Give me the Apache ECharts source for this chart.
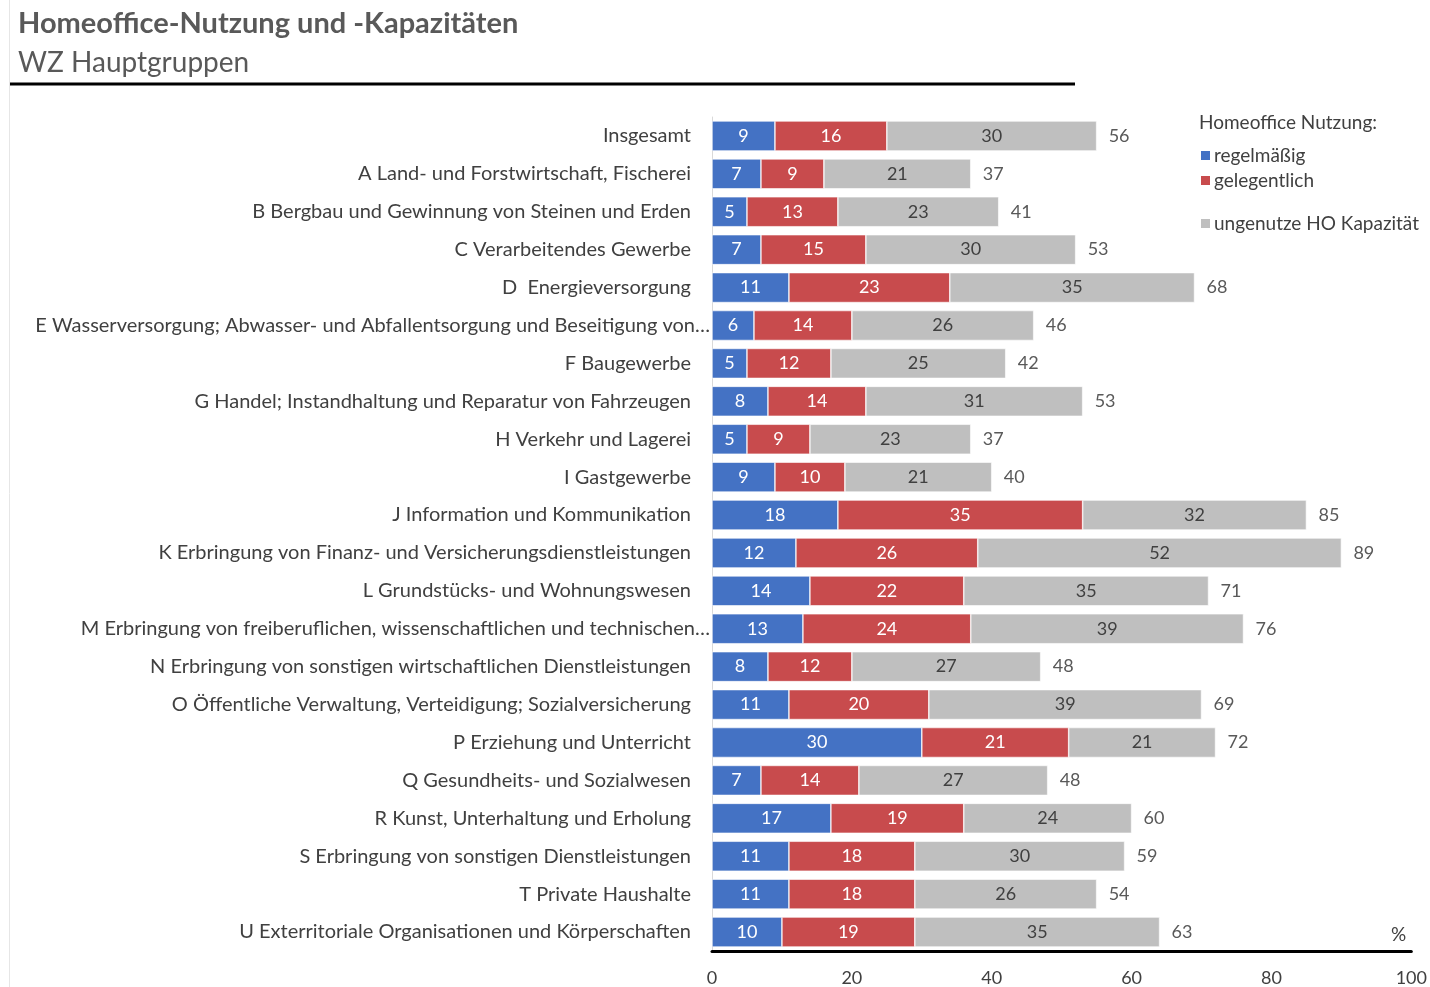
<!DOCTYPE html>
<html>
<head>
<meta charset="utf-8">
<script src="https://cdn.jsdelivr.net/npm/echarts@6/dist/echarts.min.js"></script>
<style>
  html, body { margin: 0; padding: 0; background: #fff; }
  #chart { width: 1430px; height: 987px; }
</style>
</head>
<body>
<div id="chart"></div>
<script>
// Wirtschaftszweige (WZ Hauptgruppen)
const categories = [
  'Insgesamt',
  'A Land- und Forstwirtschaft, Fischerei',
  'B Bergbau und Gewinnung von Steinen und Erden',
  'C Verarbeitendes Gewerbe',
  'D  Energieversorgung',
  'E Wasserversorgung; Abwasser- und Abfallentsorgung und Beseitigung von…',
  'F Baugewerbe',
  'G Handel; Instandhaltung und Reparatur von Fahrzeugen',
  'H Verkehr und Lagerei',
  'I Gastgewerbe',
  'J Information und Kommunikation',
  'K Erbringung von Finanz- und Versicherungsdienstleistungen',
  'L Grundstücks- und Wohnungswesen',
  'M Erbringung von freiberuflichen, wissenschaftlichen und technischen…',
  'N Erbringung von sonstigen wirtschaftlichen Dienstleistungen',
  'O Öffentliche Verwaltung, Verteidigung; Sozialversicherung',
  'P Erziehung und Unterricht',
  'Q Gesundheits- und Sozialwesen',
  'R Kunst, Unterhaltung und Erholung',
  'S Erbringung von sonstigen Dienstleistungen',
  'T Private Haushalte',
  'U Exterritoriale Organisationen und Körperschaften'
];

// Anteile in %
const regelmaessig = [9, 7, 5, 7, 11, 6, 5, 8, 5, 9, 18, 12, 14, 13, 8, 11, 30, 7, 17, 11, 11, 10];
const gelegentlich = [16, 9, 13, 15, 23, 14, 12, 14, 9, 10, 35, 26, 22, 24, 12, 20, 21, 14, 19, 18, 18, 19];
const ungenutzt = [30, 21, 23, 30, 35, 26, 25, 31, 23, 21, 32, 52, 35, 39, 27, 39, 21, 27, 24, 30, 26, 35];
const gesamt = [56, 37, 41, 53, 68, 46, 42, 53, 37, 40, 85, 89, 71, 76, 48, 69, 72, 48, 60, 59, 54, 63];

const xTicks = [0, 20, 40, 60, 80, 100];

const FONT = 'Lato';
const chart = echarts.init(document.getElementById('chart'), null, { renderer: 'canvas' });

const insideLabel = (color) => ({
  show: true,
  position: 'inside',
  color: color,
  fontFamily: FONT,
  fontSize: 18
});

chart.setOption({
  animation: false,
  backgroundColor: '#ffffff',
  textStyle: { fontFamily: FONT },
  title: [
    {
      text: 'Homeoffice-Nutzung und -Kapazitäten',
      left: 13, top: 4,
      textStyle: { fontFamily: FONT, fontSize: 29, fontWeight: 'bold', color: '#595959' }
    },
    {
      text: 'WZ Hauptgruppen',
      left: 13, top: 44,
      textStyle: { fontFamily: FONT, fontSize: 28, fontWeight: 'normal', color: '#595959' }
    }
  ],
  legend: [
    {
      data: ['regelmäßig', 'gelegentlich'],
      orient: 'vertical',
      left: 1194, top: 141,
      itemWidth: 11, itemHeight: 11, itemGap: 6,
      icon: 'rect',
      selectedMode: false,
      textStyle: { fontFamily: FONT, fontSize: 19, color: '#404040', padding: [0, 0, 0, -2] }
    },
    {
      data: ['ungenutze HO Kapazität'],
      orient: 'vertical',
      left: 1194, top: 209,
      itemWidth: 11, itemHeight: 11,
      icon: 'rect',
      selectedMode: false,
      textStyle: { fontFamily: FONT, fontSize: 19, color: '#404040', padding: [0, 0, 0, -2] }
    }
  ],
  grid: { left: 712, right: 16, top: 117, bottom: 36, containLabel: false },
  xAxis: {
    type: 'value',
    min: xTicks[0],
    max: xTicks[xTicks.length - 1],
    interval: 20,
    axisLine: { show: true, lineStyle: { color: '#000000', width: 3 } },
    axisTick: { show: false },
    splitLine: { show: false },
    axisLabel: { margin: 18, fontFamily: FONT, fontSize: 18, color: '#404040' }
  },
  yAxis: {
    type: 'category',
    data: categories,
    inverse: true,
    axisLine: { show: true, lineStyle: { color: '#d9d9d9', width: 1 } },
    axisTick: { show: false },
    axisLabel: {
      margin: 2,
      fontFamily: FONT,
      fontSize: 20,
      color: '#404040',
      formatter: (v) => (v.endsWith('…') ? '{e|' + v + '}' : '{n|' + v + '}'),
      rich: {
        n: { fontFamily: FONT, fontSize: 20, color: '#404040', padding: [0, 19, 0, 0] },
        e: { fontFamily: FONT, fontSize: 20, color: '#404040', padding: [0, 0, 0, 0] }
      }
    }
  },
  graphic: [
    {
      type: 'line',
      shape: { x1: 10, y1: 84, x2: 1075, y2: 84 },
      style: { stroke: '#000000', lineWidth: 3 }
    },
    {
      type: 'line',
      shape: { x1: 9.5, y1: 0, x2: 9.5, y2: 987 },
      style: { stroke: '#e6e6e6', lineWidth: 1 }
    },
    {
      type: 'text',
      left: 1199, top: 113,
      style: { text: 'Homeoffice Nutzung:', fontFamily: FONT, fontSize: 19, fill: '#404040' }
    },
    {
      type: 'text',
      left: 1391, top: 925,
      style: { text: '%', fontFamily: FONT, fontSize: 19, fill: '#404040' }
    }
  ],
  series: [
    {
      name: 'regelmäßig',
      type: 'bar',
      stack: 'ho',
      barCategoryGap: '21%',
      data: regelmaessig,
      itemStyle: { color: '#4472C4', borderColor: '#ffffff', borderWidth: 0.6 },
      label: insideLabel('#ffffff')
    },
    {
      name: 'gelegentlich',
      type: 'bar',
      stack: 'ho',
      data: gelegentlich,
      itemStyle: { color: '#C84B4D', borderColor: '#ffffff', borderWidth: 0.6 },
      label: insideLabel('#ffffff')
    },
    {
      name: 'ungenutze HO Kapazität',
      type: 'bar',
      stack: 'ho',
      data: ungenutzt,
      itemStyle: { color: '#BFBFBF', borderColor: '#ffffff', borderWidth: 0.6 },
      label: insideLabel('#404040')
    },
    {
      // Summenbeschriftung am Balkenende
      name: 'Summe',
      type: 'bar',
      stack: 'ho',
      data: gesamt.map(() => 0),
      itemStyle: { color: 'transparent' },
      label: {
        show: true,
        position: 'right',
        distance: 12,
        fontFamily: FONT,
        fontSize: 18,
        color: '#595959',
        formatter: (p) => String(gesamt[p.dataIndex])
      }
    }
  ]
});
</script>
</body>
</html>
